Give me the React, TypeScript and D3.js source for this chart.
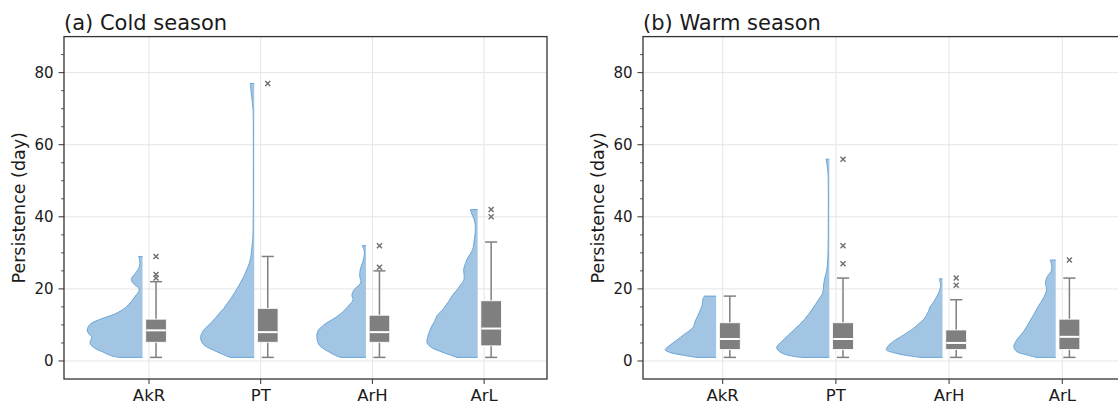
import * as d3 from "d3";
import React from "react";

const categories = ["AkR", "PT", "ArH", "ArL"];
const yMajorTicks = [0, 20, 40, 60, 80];
const yMinorTicks = [5, 10, 15, 25, 30, 35, 45, 50, 55, 65, 70, 75, 85];

// box stats (days)
const coldLow = [1, 1, 1, 1];
const coldQ1 = [5.2, 5.2, 5.2, 4.2];
const coldMedian = [8.5, 8, 8, 9];
const coldQ3 = [11.6, 14.6, 12.7, 16.7];
const coldHigh = [22, 29, 25, 33];
const coldOutliers = [[23, 24, 29], [77], [26, 32], [40, 42]];

const warmLow = [1, 1, 1, 1];
const warmQ1 = [3.2, 3.2, 3.2, 3.2];
const warmMedian = [6.1, 6.1, 5, 6.7];
const warmQ3 = [10.6, 10.6, 8.6, 11.6];
const warmHigh = [18, 23, 17, 23];
const warmOutliers = [[], [27, 32, 56], [21, 23], [28]];

// half violin outlines: [persistence, relative density]
const coldAkR = [
  [1, 0.43], [1.5, 0.57], [2.5, 0.71], [3.5, 0.85], [4.9, 0.94], [6, 0.92], [6.7, 0.91],
  [7.5, 0.96], [8.6, 0.99], [10, 0.95], [11, 0.85], [12, 0.68], [13, 0.5], [14, 0.38],
  [15, 0.29], [16.5, 0.2], [18, 0.13], [19, 0.08], [20, 0.06], [21, 0.13], [21.8, 0.18],
  [22.8, 0.2], [24.3, 0.13], [26, 0.06], [28, 0.05], [29, 0.07],
];
const coldPT = [
  [1, 0.43], [2, 0.59], [3, 0.73], [4, 0.86], [5, 0.93], [6.5, 0.96], [8, 0.93], [9, 0.88],
  [10, 0.81], [11, 0.75], [12, 0.69], [13.3, 0.62], [14.5, 0.55], [16, 0.48], [17.5, 0.41],
  [19, 0.35], [20.5, 0.29], [21.6, 0.25], [23, 0.2], [24.3, 0.16], [25.5, 0.13], [27, 0.09],
  [29, 0.06], [31, 0.045], [33, 0.032], [35, 0.023], [40, 0.018], [50, 0.016], [60, 0.016],
  [68, 0.018], [70, 0.023], [72, 0.036], [74.5, 0.054], [77, 0.071],
];
const coldArH = [
  [1, 0.45], [1.5, 0.54], [2.5, 0.66], [3.5, 0.77], [4.5, 0.84], [6, 0.875], [7.5, 0.875],
  [8.6, 0.85], [9.5, 0.79], [10.5, 0.71], [11.8, 0.57], [13, 0.46], [14.2, 0.375], [15.5, 0.3],
  [17, 0.23], [18, 0.25], [19, 0.24], [20, 0.2], [21, 0.125], [22, 0.09], [23.4, 0.11],
  [24.5, 0.11], [26, 0.09], [28, 0.045], [30, 0.027], [31, 0.036], [32, 0.066],
];
const coldArL = [
  [1, 0.375], [1.7, 0.5], [2.5, 0.64], [3.7, 0.82], [5, 0.905], [6.9, 0.89], [8.3, 0.86],
  [9.7, 0.82], [11, 0.77], [12.5, 0.73], [14, 0.64], [15.2, 0.58], [16.5, 0.52], [18, 0.46],
  [20.3, 0.34], [21.5, 0.29], [22.2, 0.25], [23.5, 0.24], [25.4, 0.25], [27, 0.22], [28.2, 0.19],
  [29.5, 0.14], [30.9, 0.09], [33.7, 0.06], [36.5, 0.04], [39.2, 0.06], [40.6, 0.1], [42, 0.13],
];

const warmAkR = [
  [1, 0.35], [1.6, 0.58], [2.3, 0.8], [3.1, 0.9], [4.2, 0.83], [5.6, 0.71], [7.4, 0.56],
  [9.3, 0.41], [10.5, 0.38], [11.1, 0.37], [12, 0.34], [13.4, 0.3], [15.3, 0.25], [17.1, 0.235],
  [17.6, 0.22], [18, 0.21],
];
const warmPT = [
  [1, 0.49], [1.4, 0.67], [2.3, 0.85], [3.7, 0.93], [6, 0.8], [8.7, 0.62], [11.5, 0.44],
  [14.2, 0.31], [17, 0.19], [18.8, 0.12], [20, 0.105], [21.6, 0.097], [23, 0.08], [24.3, 0.058],
  [26, 0.039], [28, 0.028], [32, 0.021], [40, 0.018], [48, 0.018], [52, 0.023], [54, 0.035],
  [56, 0.058],
];
const warmArH = [
  [1, 0.39], [1.5, 0.62], [2.2, 0.84], [3.1, 0.99], [4, 0.97], [5.4, 0.87], [7.2, 0.69],
  [9.1, 0.51], [10.5, 0.41], [11.4, 0.34], [12.5, 0.29], [13.7, 0.25], [15, 0.22], [16.3, 0.16],
  [17.5, 0.115], [18.6, 0.076], [20, 0.044], [20.9, 0.03], [22, 0.044], [22.8, 0.058],
];
const warmArL = [
  [1, 0.35], [1.7, 0.51], [2.6, 0.69], [4, 0.74], [5.8, 0.69], [8.1, 0.57], [10.4, 0.48],
  [12.8, 0.39], [15.1, 0.31], [17.4, 0.22], [19.7, 0.16], [21.6, 0.18], [23.4, 0.15],
  [24.8, 0.083], [26.6, 0.071], [28, 0.1],
];

const coldViolins = [coldAkR, coldPT, coldArH, coldArL];
const warmViolins = [warmAkR, warmPT, warmArH, warmArL];

const FONT = "DejaVu Sans";
const VIOLIN_FILL = "#a1c5e2";
const VIOLIN_EDGE = "#6aa5d8";
const BOX_GRAY = "#7f7f7f";
const GRID = "#e5e5e5";
const SPINE = "#333333";

// positions in category units
const VIOLIN_EDGE_OFF = -0.058;
const VIOLIN_MAX = 0.5;
const BOX_OFF = 0.063;
const BOX_HALF = 0.092;
const CAP_HALF = 0.054;

const y = d3.scaleLinear().domain([-5, 90]).range([379, 36.6]);

type PanelProps = {
  title: string;
  left: number;
  right: number;
  xMin: number;
  violins: number[][][];
  low: number[];
  q1: number[];
  median: number[];
  q3: number[];
  high: number[];
  outliers: number[][];
};

const Panel = (p: PanelProps) => {
  const x = d3.scaleLinear().domain([p.xMin, 3.563]).range([p.left, p.right]);
  const unit = x(1) - x(0);
  const top = y.range()[1];
  const bottom = y.range()[0];
  const w = d3.scaleLinear().domain([0, 1]).range([0, VIOLIN_MAX * unit]);

  return (
    <g>
      {/* grid */}
      {yMajorTicks.map(t => (
        <line key={"gy" + t} x1={p.left} x2={p.right} y1={y(t)} y2={y(t)} stroke={GRID} strokeWidth={1} />
      ))}
      {categories.map((c, i) => (
        <line key={"gx" + c} x1={x(i)} x2={x(i)} y1={top} y2={bottom} stroke={GRID} strokeWidth={1} />
      ))}

      {/* half violins */}
      {p.violins.map((pts, i) => {
        const edge = x(i + VIOLIN_EDGE_OFF);
        const area = d3.area<number[]>()
          .y(d => y(d[0]))
          .x0(edge)
          .x1(d => edge - w(d[1]))
          .curve(d3.curveCatmullRom.alpha(0.5));
        const line = d3.line<number[]>()
          .y(d => y(d[0]))
          .x(d => edge - w(d[1]))
          .curve(d3.curveCatmullRom.alpha(0.5));
        const first = pts[0];
        const last = pts[pts.length - 1];
        const outline = `M${edge},${y(first[0])}` + (line(pts) || "").replace(/^M/, "L") + `L${edge},${y(last[0])}`;
        return (
          <g key={"v" + i}>
            <path d={area(pts) || ""} fill={VIOLIN_FILL} />
            <path d={outline} fill="none" stroke={VIOLIN_EDGE} strokeWidth={1} />
          </g>
        );
      })}

      {/* boxes */}
      {categories.map((c, i) => {
        const cx = x(i + BOX_OFF);
        const bx0 = x(i + BOX_OFF - BOX_HALF);
        const bx1 = x(i + BOX_OFF + BOX_HALF);
        const cap0 = x(i + BOX_OFF - CAP_HALF);
        const cap1 = x(i + BOX_OFF + CAP_HALF);
        return (
          <g key={"b" + c}>
            <line x1={cx} x2={cx} y1={y(p.low[i])} y2={y(p.q1[i])} stroke={BOX_GRAY} strokeWidth={1.5} />
            <line x1={cx} x2={cx} y1={y(p.q3[i])} y2={y(p.high[i])} stroke={BOX_GRAY} strokeWidth={1.5} />
            <line x1={cap0} x2={cap1} y1={y(p.low[i])} y2={y(p.low[i])} stroke={BOX_GRAY} strokeWidth={1.5} />
            <line x1={cap0} x2={cap1} y1={y(p.high[i])} y2={y(p.high[i])} stroke={BOX_GRAY} strokeWidth={1.5} />
            <rect x={bx0} width={bx1 - bx0} y={y(p.q3[i])} height={y(p.q1[i]) - y(p.q3[i])}
              fill={BOX_GRAY} stroke="#ffffff" strokeWidth={0.8} />
            <line x1={bx0 + 0.5} x2={bx1 - 0.5} y1={y(p.median[i])} y2={y(p.median[i])} stroke="#ffffff" strokeWidth={2} />
            {p.outliers[i].map((o, j) => (
              <path key={j} transform={`translate(${cx},${y(o)})`}
                d="M-2.5,-2.5L2.5,2.5M-2.5,2.5L2.5,-2.5" stroke="#6e6e6e" strokeWidth={1.4} />
            ))}
          </g>
        );
      })}

      {/* spines */}
      <rect x={p.left} y={top} width={p.right - p.left} height={bottom - top} fill="none" stroke={SPINE} strokeWidth={1.3} />

      {/* y axis */}
      {yMajorTicks.map(t => (
        <g key={"yt" + t}>
          <line x1={p.left - 5.5} x2={p.left} y1={y(t)} y2={y(t)} stroke={SPINE} strokeWidth={1} />
          <text x={p.left - 10.5} y={y(t)} dy="0.36em" textAnchor="end" fontFamily={FONT} fontSize={15} fill="#1a1a1a">{t}</text>
        </g>
      ))}
      {yMinorTicks.map(t => (
        <line key={"ym" + t} x1={p.left - 3} x2={p.left} y1={y(t)} y2={y(t)} stroke={SPINE} strokeWidth={0.8} />
      ))}
      <text transform={`translate(${p.left - 39},${(top + bottom) / 2}) rotate(-90)`} textAnchor="middle"
        fontFamily={FONT} fontSize={17.5} fill="#1a1a1a">Persistence (day)</text>

      {/* x axis */}
      {categories.map((c, i) => (
        <g key={"xt" + c}>
          <line x1={x(i)} x2={x(i)} y1={bottom} y2={bottom + 5} stroke={SPINE} strokeWidth={1} />
          <text x={x(i)} y={bottom + 21.5} textAnchor="middle" fontFamily={FONT} fontSize={16.5} fill="#1a1a1a">{c}</text>
        </g>
      ))}

      <text x={p.left} y={30} fontFamily={FONT} fontSize={21} fill="#1a1a1a">{p.title}</text>
    </g>
  );
};

export default function App() {
  return (
    <svg width={1118} height={405} style={{ position: "absolute", left: 0, top: 0, background: "#fff" }}>
      <rect width={1118} height={405} fill="#fff" />
      <Panel title="(a) Cold season" left={64} right={547} xMin={-0.761} violins={coldViolins}
        low={coldLow} q1={coldQ1} median={coldMedian} q3={coldQ3} high={coldHigh} outliers={coldOutliers} />
      <Panel title="(b) Warm season" left={643} right={1126} xMin={-0.704} violins={warmViolins}
        low={warmLow} q1={warmQ1} median={warmMedian} q3={warmQ3} high={warmHigh} outliers={warmOutliers} />
    </svg>
  );
}
